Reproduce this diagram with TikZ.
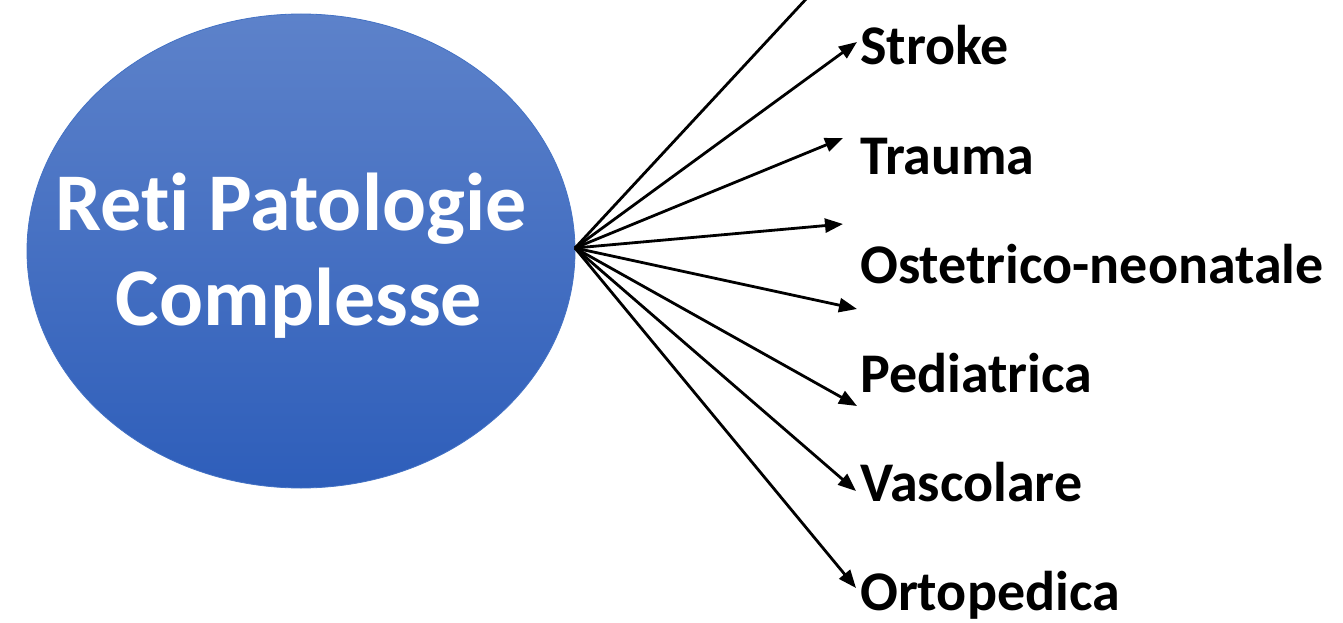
\documentclass[tikz,border=0pt]{standalone}
\usepackage{fontspec}
\setmainfont{Carlito}[Ligatures=NoCommon]
\usetikzlibrary{arrows.meta,shapes.geometric}
\definecolor{blueTop}{RGB}{93,130,202}
\definecolor{blueBot}{RGB}{46,94,186}
\definecolor{blueLine}{RGB}{68,114,196}
\tikzset{
  conn/.style={line width=2.8pt, -{Triangle[length=18pt,width=14pt]}},
  lbl/.style={anchor=base west, inner sep=0pt, font=\fontsize{56}{60}\selectfont\bfseries},
  ttl/.style={anchor=base, inner sep=0pt, text=white, font=\fontsize{82}{90}\selectfont\bfseries},
}
\begin{document}
\begin{tikzpicture}[x=1pt,y=-1pt]
\useasboundingbox (0,0) rectangle (1343,623);
\clip (0,0) rectangle (1343,623);
\shade[top color=blueTop, bottom color=blueBot] (301,251) ellipse [x radius=274, y radius=237];
\node[ellipse, draw=blueLine, line width=0.8pt, minimum width=548pt, minimum height=474pt, inner sep=0pt] (ell) at (301,251) {};
\node[ttl] (title1) at (291,230) {Reti Patologie};
\node[ttl] (title2) at (299,325) {Complesse};
\coordinate (hub) at (575,248);
\coordinate (top) at (833,-30);
\coordinate (t1) at (857,42);
\coordinate (t2) at (843,138);
\coordinate (t3) at (843,224);
\coordinate (t4) at (857,309);
\coordinate (t5) at (857,406);
\coordinate (t6) at (856,491);
\coordinate (t7) at (856,588);
\draw[conn] (hub) -- (top);
\foreach \t in {t1,t2,t3,t4,t5,t6,t7} \draw[conn] (hub) -- (\t);
\node[lbl] (stroke) at (860,65) {Stroke};
\node[lbl] (trauma) at (860,174) {Trauma};
\node[lbl] (oste) at (860,283) {Ostetrico-neonatale};
\node[lbl] (pedi) at (860,392) {Pediatrica};
\node[lbl] (vasc) at (860,501) {Vascolare};
\node[lbl] (orto) at (860,610) {Ortopedica};
\end{tikzpicture}
\end{document}
